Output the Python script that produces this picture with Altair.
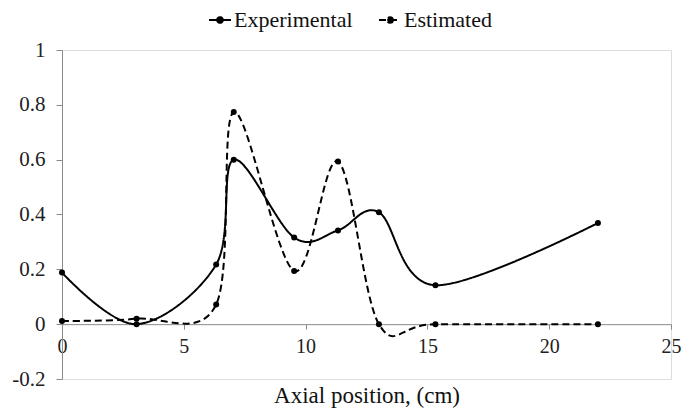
import altair as alt
import pandas as pd

positions = [0, 3.06, 6.33, 7.05, 9.53, 11.33, 13.01, 15.33, 22.0]
experimental = [0.188, 0.0, 0.218, 0.60, 0.316, 0.342, 0.408, 0.142, 0.369]
estimated = [0.012, 0.02, 0.072, 0.774, 0.194, 0.593, 0.0, 0.0, 0.0]
series_names = ["Experimental", "Estimated"]
x_ticks = [0, 5, 10, 15, 20, 25]
y_ticks = [-0.2, 0, 0.2, 0.4, 0.6, 0.8, 1]

rows = []
for s, vals in zip(series_names, [experimental, estimated]):
    for i, (x, y) in enumerate(zip(positions, vals)):
        rows.append({"series": s, "x": x, "y": y, "order": i})
df = pd.DataFrame(rows)

W, H = 609, 329
FONT = "Liberation Serif"
AXIS_GRAY = "#8a8a8a"

legend_path = "M-1,0L1,0M0.26,0A0.26,0.26,0,1,1,-0.26,0A0.26,0.26,0,1,1,0.26,0Z"

x_enc = alt.X(
    "x:Q",
    scale=alt.Scale(domain=[0, 25], nice=False),
    axis=alt.Axis(
        values=x_ticks, title="Axial position, (cm)", grid=False,
        offset=-H / 6, domainColor=AXIS_GRAY, tickColor=AXIS_GRAY,
        tickSize=5, labelPadding=7, labelFont=FONT, labelFontSize=20,
        labelColor="#222222", titleFont=FONT, titleFontSize=23,
        titleFontWeight="normal", titleColor="#111111",
        titleBaseline="alphabetic", titleY=78, labelFlush=False,
    ),
)
y_enc = alt.Y(
    "y:Q",
    scale=alt.Scale(domain=[-0.2, 1], nice=False, zero=False),
    axis=alt.Axis(
        values=y_ticks, title=None, grid=False,
        domainColor=AXIS_GRAY, tickColor=AXIS_GRAY, tickSize=6,
        labelPadding=11, labelFont=FONT, labelFontSize=21,
        labelColor="#222222",
        labelExpr="replace(format(datum.value, '.1~f'), '\u2212', '-')",
    ),
)

dash = alt.StrokeDash(
    "series:N",
    scale=alt.Scale(domain=series_names, range=[[1, 0], [7, 4]]),
    sort=series_names,
    legend=alt.Legend(
        title=None, orient="none", direction="horizontal",
        legendX=146, legendY=-42, symbolType=legend_path,
        symbolSize=484, symbolStrokeWidth=2, symbolStrokeColor="black",
        symbolFillColor="black", labelFont=FONT, labelFontSize=22,
        labelColor="#111111", labelOffset=2, columnPadding=22,
        labelLimit=300,
    ),
)

lines = alt.Chart(df).mark_line(
    interpolate="cardinal", color="black", strokeWidth=2
).encode(x=x_enc, y=y_enc, strokeDash=dash, order="order:Q", detail="series:N")

points = alt.Chart(df).mark_point(
    filled=True, color="black", size=36, opacity=1
).encode(x=x_enc, y=y_enc)

chart = alt.layer(lines, points).properties(
    width=W, height=H,
    autosize=alt.AutoSizeParams(type="none"),
    padding={"left": 62, "top": 50, "right": 11, "bottom": 30},
).configure_view(strokeWidth=0).configure_axis(
    labelFont=FONT, titleFont=FONT
).configure(font=FONT)

chart.save("out.html", embed_options={"renderer": "svg", "actions": False})
